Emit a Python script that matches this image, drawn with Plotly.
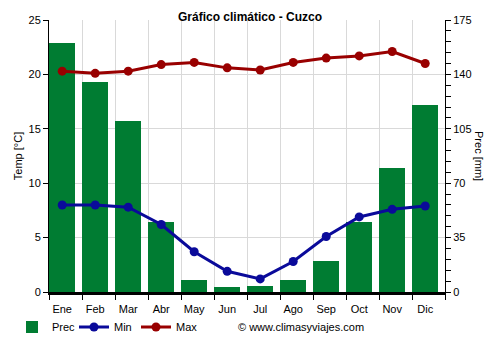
import plotly.graph_objects as go

# Monthly climate data for Cuzco
months = ["Ene", "Feb", "Mar", "Abr", "May", "Jun", "Jul", "Ago", "Sep", "Oct", "Nov", "Dic"]
prec_mm = [160, 135, 110, 45, 8, 3, 4, 8, 20, 45, 80, 120]
temp_min = [8.0, 8.0, 7.8, 6.2, 3.7, 1.9, 1.2, 2.8, 5.1, 6.9, 7.6, 7.9]
temp_max = [20.3, 20.1, 20.3, 20.9, 21.1, 20.6, 20.4, 21.1, 21.5, 21.7, 22.1, 21.0]

x = list(range(len(months)))
FONT = "Liberation Sans, Arial, sans-serif"
GREEN = "#007c32"
BLUE = "#0a0a9a"
RED = "#990000"
GRID = "#d9d9d9"

fig = go.Figure()

# Precipitation bars on the primary (right-hand) axis so the lines sit on top
fig.add_trace(go.Bar(
    x=x, y=prec_mm, name="Prec", marker_color=GREEN, marker_line_width=0,
    width=0.8, yaxis="y",
))
fig.add_trace(go.Scatter(
    x=x, y=temp_min, name="Min", mode="lines+markers",
    line=dict(color=BLUE, width=3), marker=dict(size=9, color=BLUE), yaxis="y2",
))
fig.add_trace(go.Scatter(
    x=x, y=temp_max, name="Max", mode="lines+markers",
    line=dict(color=RED, width=3), marker=dict(size=9, color=RED), yaxis="y2",
))

boundaries = [i - 0.4 for i in range(len(months) + 1)]

fig.update_layout(
    width=500, height=350,
    margin=dict(l=49, r=55, t=20, b=58, autoexpand=False),
    paper_bgcolor="white", plot_bgcolor="white",
    font=dict(family=FONT, size=11, color="#000"),
    title=dict(text="<b>Gráfico climático - Cuzco</b>", x=0.5, xanchor="center",
               y=1 - 17 / 350, yanchor="middle", font=dict(size=12, color="#000")),
    bargap=0,
    showlegend=True,
    legend=dict(orientation="h", xref="container", yref="container",
                x=12 / 500, xanchor="left", y=(350 - 327) / 350, yanchor="middle",
                font=dict(size=11), entrywidth=17, itemwidth=30,
                bgcolor="rgba(0,0,0,0)", traceorder="normal"),
    xaxis=dict(
        range=[-0.4, 11.6], tickmode="array", tickvals=x, ticktext=months,
        ticks="outside", ticklen=5, tickcolor="rgba(0,0,0,0)",
        showgrid=False, zeroline=False,
        showline=True, linecolor="#000", linewidth=3, layer="below traces",
        minor=dict(tickmode="array", tickvals=boundaries, ticks="outside",
                   ticklen=5, tickcolor="#000", showgrid=True, gridcolor=GRID,
                   gridwidth=1),
    ),
    yaxis=dict(
        side="right", range=[0, 175], tickmode="linear", tick0=0, dtick=35,
        ticks="outside", ticklen=5, tickcolor="#000",
        showgrid=True, gridcolor=GRID, gridwidth=1, zeroline=False,
        showline=True, linecolor="#000", linewidth=1,
        minor=dict(dtick=7, ticks="outside", ticklen=5, tickcolor="#000", showgrid=False),
    ),
    yaxis2=dict(
        overlaying="y", side="left", range=[0, 25], tickmode="linear", tick0=0, dtick=5,
        ticks="outside", ticklen=5, tickcolor="#000",
        showgrid=False, zeroline=False,
        showline=True, linecolor="#000", linewidth=1,
    ),
    annotations=[
        dict(text="Temp [°C]", xref="paper", yref="paper", x=-0.098, y=0.5,
             textangle=-90, showarrow=False, font=dict(size=11)),
        dict(text="Prec [mm]", xref="paper", yref="paper", x=1.106, y=0.5,
             textangle=90, showarrow=False, font=dict(size=11)),
        dict(text="© www.climasyviajes.com", xref="paper", yref="paper",
             x=(236 - 49) / 396, xanchor="left", y=(292 - 327) / 272, yanchor="middle",
             showarrow=False, font=dict(size=11)),
    ],
)

fig.write_html("out.html")
